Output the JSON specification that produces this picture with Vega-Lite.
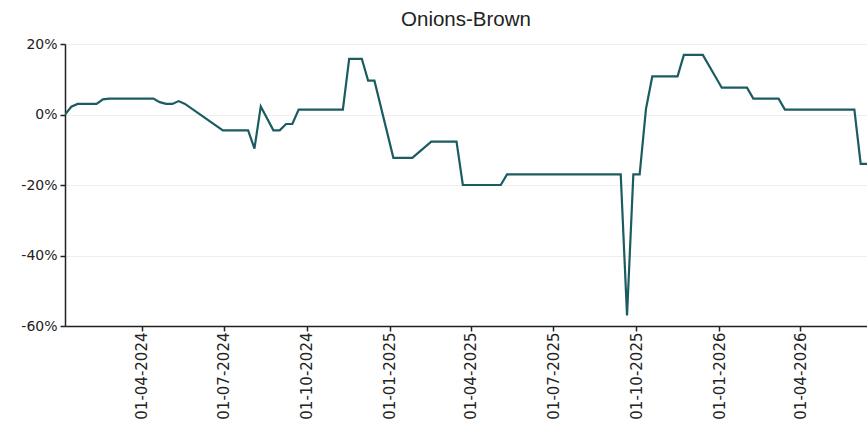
{
  "$schema": "https://vega.github.io/schema/vega-lite/v6.json",
  "width": 802,
  "height": 282,
  "autosize": {"type": "none"},
  "padding": {"left": 65, "top": 44, "right": 0, "bottom": 100},
  "background": "white",
  "title": {"text": "Onions-Brown", "fontSize": 20.5, "font": "Liberation Sans", "fontWeight": "normal", "color": "#222222", "offset": 7, "anchor": "middle"},
  "config": {"view": {"stroke": null}},
  "data": {"values": [
    {"date": "2024-01-07", "value": 0.0},
    {"date": "2024-01-14", "value": 0.022},
    {"date": "2024-01-21", "value": 0.03},
    {"date": "2024-02-11", "value": 0.03},
    {"date": "2024-02-18", "value": 0.043},
    {"date": "2024-02-25", "value": 0.045},
    {"date": "2024-04-14", "value": 0.045},
    {"date": "2024-04-21", "value": 0.035},
    {"date": "2024-04-28", "value": 0.03},
    {"date": "2024-05-05", "value": 0.03},
    {"date": "2024-05-12", "value": 0.038},
    {"date": "2024-05-19", "value": 0.03},
    {"date": "2024-06-30", "value": -0.045},
    {"date": "2024-07-28", "value": -0.045},
    {"date": "2024-08-04", "value": -0.097},
    {"date": "2024-08-11", "value": 0.023},
    {"date": "2024-08-25", "value": -0.045},
    {"date": "2024-09-01", "value": -0.045},
    {"date": "2024-09-08", "value": -0.027},
    {"date": "2024-09-15", "value": -0.027},
    {"date": "2024-09-22", "value": 0.014},
    {"date": "2024-11-10", "value": 0.014},
    {"date": "2024-11-17", "value": 0.158},
    {"date": "2024-12-01", "value": 0.158},
    {"date": "2024-12-08", "value": 0.096},
    {"date": "2024-12-15", "value": 0.096},
    {"date": "2025-01-05", "value": -0.123},
    {"date": "2025-01-26", "value": -0.123},
    {"date": "2025-02-16", "value": -0.077},
    {"date": "2025-03-16", "value": -0.077},
    {"date": "2025-03-23", "value": -0.2},
    {"date": "2025-05-04", "value": -0.2},
    {"date": "2025-05-11", "value": -0.17},
    {"date": "2025-09-14", "value": -0.17},
    {"date": "2025-09-21", "value": -0.57},
    {"date": "2025-09-28", "value": -0.17},
    {"date": "2025-10-05", "value": -0.17},
    {"date": "2025-10-12", "value": 0.016},
    {"date": "2025-10-19", "value": 0.108},
    {"date": "2025-11-16", "value": 0.108},
    {"date": "2025-11-23", "value": 0.169},
    {"date": "2025-12-14", "value": 0.169},
    {"date": "2026-01-04", "value": 0.076},
    {"date": "2026-02-01", "value": 0.076},
    {"date": "2026-02-08", "value": 0.045},
    {"date": "2026-03-08", "value": 0.045},
    {"date": "2026-03-15", "value": 0.014},
    {"date": "2026-05-31", "value": 0.014},
    {"date": "2026-06-07", "value": -0.14},
    {"date": "2026-06-14", "value": -0.14}
  ]},
  "mark": {"type": "line", "color": "#1b5c60", "strokeWidth": 2.2, "clip": true},
  "encoding": {
    "x": {
      "field": "date", "type": "temporal",
      "scale": {"type": "utc", "domain": ["2024-01-07", "2026-06-14"], "nice": false},
      "axis": {
        "title": null,
        "values": ["2024-04-01", "2024-07-01", "2024-10-01", "2025-01-01", "2025-04-01", "2025-07-01", "2025-10-01", "2026-01-01", "2026-04-01"],
        "labelExpr": "utcFormat(datum.value, '%d-%m-%Y')",
        "labelAngle": -90, "labelAlign": "right", "labelBaseline": "middle",
        "labelFont": "DejaVu Sans", "labelFontSize": 15, "labelColor": "#222222", "labelPadding": 1,
        "grid": false, "domainColor": "#222222", "domainWidth": 1.5,
        "tickColor": "#222222", "tickSize": 5, "tickWidth": 1.5
      }
    },
    "y": {
      "field": "value", "type": "quantitative",
      "scale": {"domain": [-0.6, 0.2], "nice": false, "zero": false},
      "axis": {
        "title": null,
        "values": [-0.6, -0.4, -0.2, 0, 0.2],
        "labelExpr": "(datum.value < 0 ? '-' : '') + format(abs(datum.value) * 100, '.0f') + '%'",
        "labelFont": "DejaVu Sans", "labelFontSize": 14, "labelColor": "#222222", "labelPadding": 3,
        "grid": true, "gridColor": "#eeeeee", "gridWidth": 1.2,
        "domainColor": "#222222", "domainWidth": 1.5,
        "tickColor": "#222222", "tickSize": 5, "tickWidth": 1.5
      }
    }
  }
}
